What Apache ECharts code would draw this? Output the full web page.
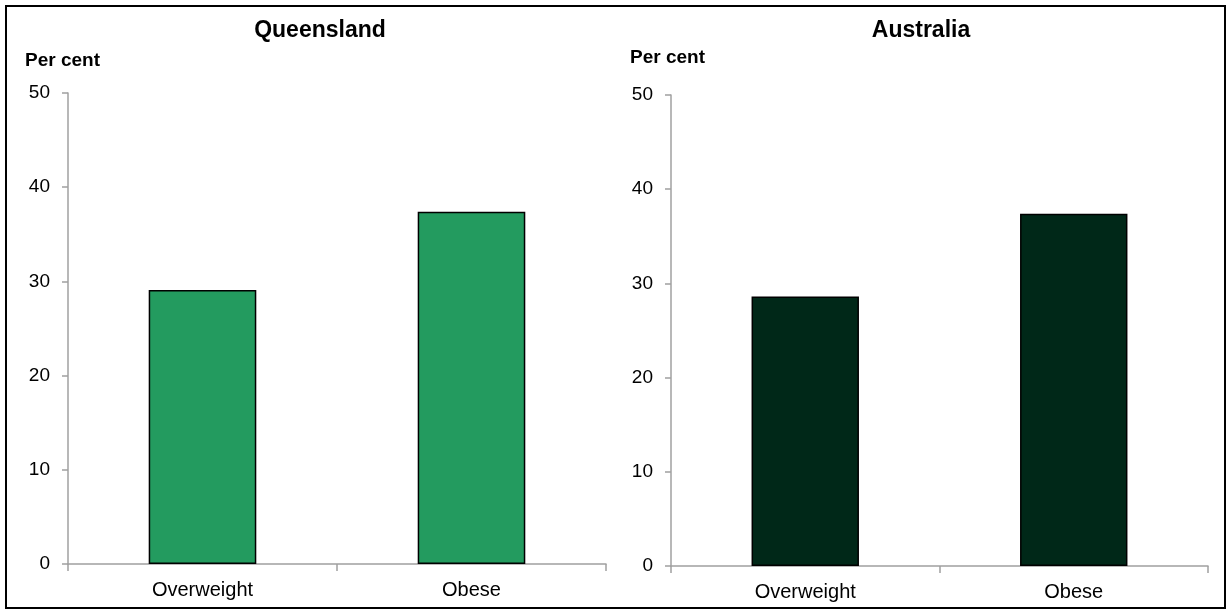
<!DOCTYPE html>
<html>
<head>
<meta charset="utf-8">
<script src="https://cdn.jsdelivr.net/npm/echarts@6/dist/echarts.min.js"></script>
<style>
html,body{margin:0;padding:0;background:#fff;}
#chart{width:1231px;height:614px;}
</style>
</head>
<body>
<div id="chart"></div>
<script>
const categories = ['Overweight', 'Obese'];
const queenslandValues = [29.1, 37.4];
const australiaValues = [28.6, 37.4];
const panelTitles = ['Queensland', 'Australia'];
const yTicks = [0, 10, 20, 30, 40, 50];

const chart = echarts.init(document.getElementById('chart'));
const font = 'Liberation Sans, Arial, sans-serif';
const axisGray = '#A0A0A0';

function xAxis(i) {
  return {
    type: 'category', gridIndex: i, data: categories,
    axisLine: {lineStyle: {color: axisGray, width: 1.5}},
    axisTick: {show: true, length: 7, lineStyle: {color: axisGray, width: 1.5}},
    axisLabel: {color: '#000', fontSize: 20, fontFamily: font, margin: 16}
  };
}
function yAxis(i) {
  return {
    type: 'value', gridIndex: i, min: yTicks[0], max: yTicks[yTicks.length - 1], interval: 10,
    splitLine: {show: false},
    axisLine: {show: true, lineStyle: {color: axisGray, width: 1.5}},
    axisTick: {show: true, length: 6, lineStyle: {color: axisGray, width: 1.5}},
    axisLabel: {color: '#000', fontSize: 19, fontFamily: font, margin: 18}
  };
}

chart.setOption({
  animation: false,
  backgroundColor: '#fff',
  title: [
    {text: panelTitles[0], left: 320, top: 19, textAlign: 'center', padding: 0,
     textStyle: {fontSize: 23, fontWeight: 'bold', fontFamily: font, color: '#000'}},
    {text: panelTitles[1], left: 921, top: 19, textAlign: 'center', padding: 0,
     textStyle: {fontSize: 23, fontWeight: 'bold', fontFamily: font, color: '#000'}},
    {text: 'Per cent', left: 25, top: 51, padding: 0,
     textStyle: {fontSize: 19, fontWeight: 'bold', fontFamily: font, color: '#000'}},
    {text: 'Per cent', left: 630, top: 48, padding: 0,
     textStyle: {fontSize: 19, fontWeight: 'bold', fontFamily: font, color: '#000'}}
  ],
  graphic: [{
    type: 'rect', shape: {x: 6, y: 6, width: 1219, height: 602},
    style: {fill: 'none', stroke: '#000', lineWidth: 2}, silent: true
  }],
  grid: [
    {left: 68, top: 93, width: 538, height: 471},
    {left: 671, top: 95, width: 537, height: 471}
  ],
  xAxis: [xAxis(0), xAxis(1)],
  yAxis: [yAxis(0), yAxis(1)],
  series: [
    {type: 'bar', xAxisIndex: 0, yAxisIndex: 0, data: queenslandValues, barWidth: '40%',
     itemStyle: {color: '#239B5F', borderColor: '#000', borderWidth: 1.5}},
    {type: 'bar', xAxisIndex: 1, yAxisIndex: 1, data: australiaValues, barWidth: '40%',
     itemStyle: {color: '#002818', borderColor: '#000', borderWidth: 1.5}}
  ]
});
</script>
</body>
</html>
